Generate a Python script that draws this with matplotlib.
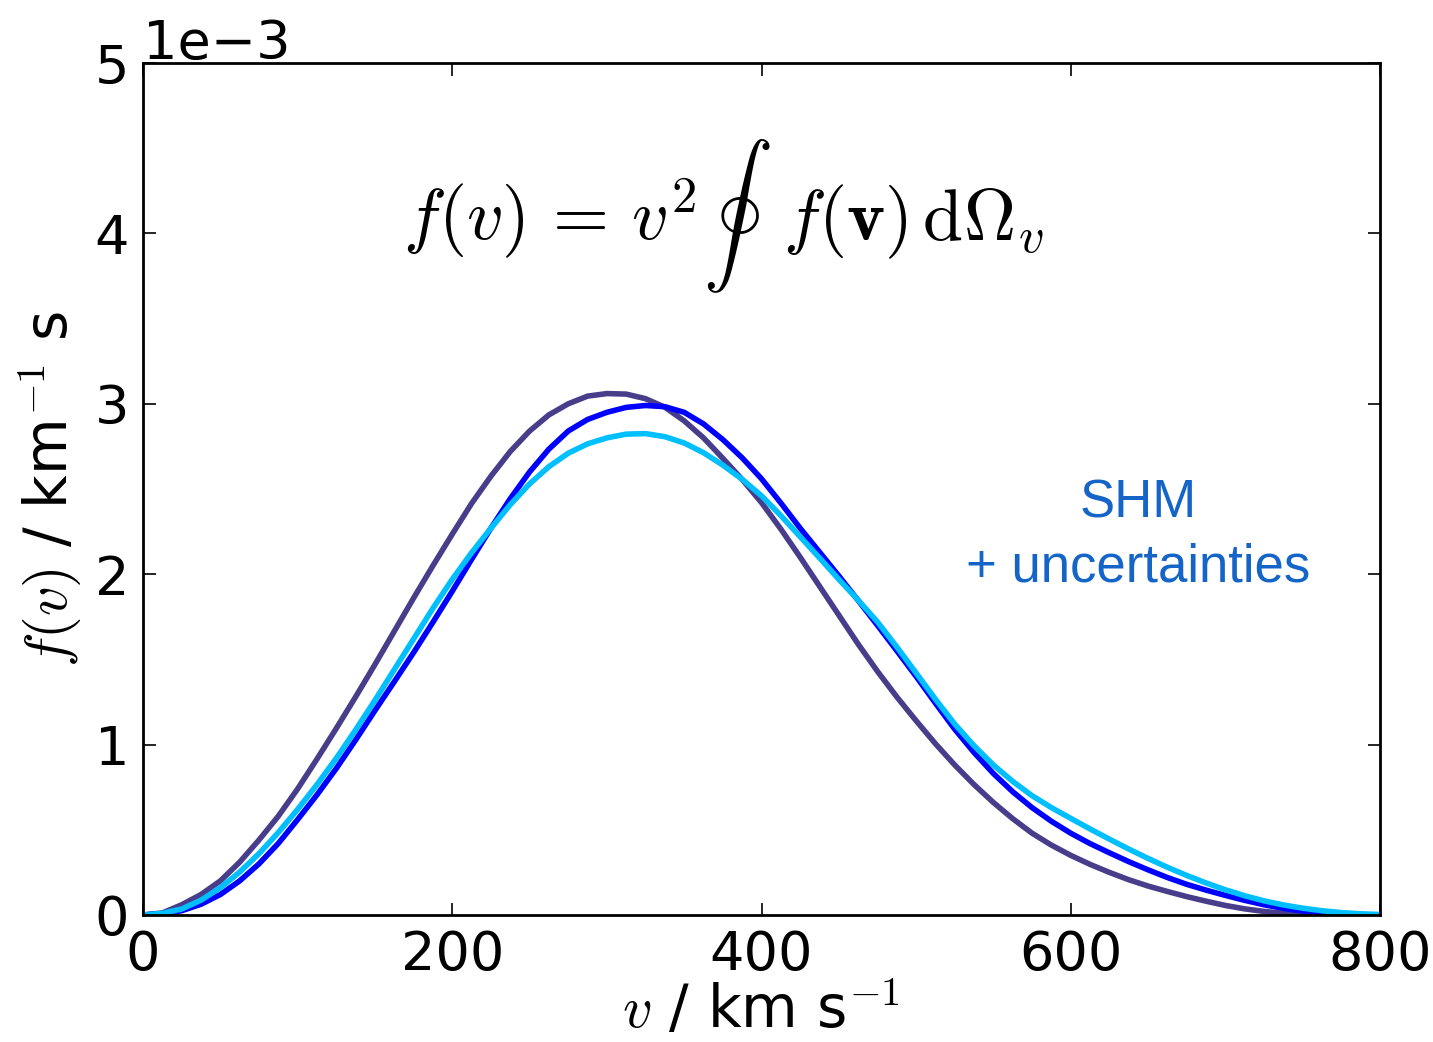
import matplotlib
matplotlib.use("Agg")
import matplotlib.pyplot as plt

plt.rcParams['mathtext.fontset'] = 'cm'
plt.rcParams['font.family'] = ['DejaVu Sans']

# speed samples (km/s)
speed = [0, 12.5, 25, 37.5, 50, 62.5, 75, 87.5, 100, 112.5, 125, 137.5, 150,
         162.5, 175, 187.5, 200, 212.5, 225, 237.5, 250, 262.5, 275, 287.5,
         300, 312.5, 325, 337.5, 350, 362.5, 375, 387.5, 400, 412.5, 425,
         437.5, 450, 462.5, 475, 487.5, 500, 512.5, 525, 537.5, 550, 562.5,
         575, 587.5, 600, 612.5, 625, 637.5, 650, 662.5, 675, 687.5, 700,
         712.5, 725, 737.5, 750, 762.5, 775, 787.5, 800]

# f(v) in units of 1e-3 (km/s)^-1
f_dark = [0.0, 0.012, 0.06, 0.12, 0.20, 0.31, 0.44, 0.58, 0.74, 0.915, 1.095,
          1.28, 1.47, 1.665, 1.86, 2.05, 2.235, 2.415, 2.575, 2.72, 2.84, 2.935,
          3.00, 3.045, 3.06, 3.057, 3.03, 2.98, 2.90, 2.80, 2.68, 2.556, 2.42,
          2.265, 2.10, 1.93, 1.76, 1.59, 1.43, 1.28, 1.14, 1.005, 0.88, 0.765,
          0.66, 0.565, 0.48, 0.41, 0.35, 0.297, 0.25, 0.207, 0.17, 0.138, 0.108,
          0.081, 0.056, 0.036, 0.021, 0.010, 0.004, 0.001, 0.0, 0.0, 0.0]
f_blue = [0.0, 0.008, 0.025, 0.063, 0.12, 0.20, 0.30, 0.42, 0.56, 0.705, 0.86,
          1.027, 1.20, 1.369, 1.54, 1.718, 1.90, 2.087, 2.27, 2.443, 2.60,
          2.734, 2.84, 2.908, 2.95, 2.979, 2.99, 2.983, 2.95, 2.882, 2.79,
          2.683, 2.56, 2.418, 2.27, 2.13, 1.99, 1.846, 1.70, 1.551, 1.40,
          1.243, 1.09, 0.953, 0.83, 0.723, 0.63, 0.55, 0.48, 0.419, 0.365,
          0.313, 0.265, 0.220, 0.18, 0.146, 0.115, 0.086, 0.06, 0.039, 0.023,
          0.012, 0.005, 0.0015, 0.0]
f_cyan = [0.0, 0.01, 0.035, 0.087, 0.16, 0.252, 0.36, 0.484, 0.62, 0.765, 0.92,
          1.086, 1.26, 1.44, 1.62, 1.80, 1.97, 2.126, 2.27, 2.408, 2.53, 2.631,
          2.71, 2.765, 2.80, 2.822, 2.825, 2.807, 2.77, 2.713, 2.64, 2.557,
          2.46, 2.344, 2.22, 2.096, 1.97, 1.848, 1.72, 1.573, 1.42, 1.266,
          1.12, 0.993, 0.88, 0.784, 0.70, 0.63, 0.567, 0.505, 0.445, 0.387,
          0.332, 0.28, 0.232, 0.188, 0.148, 0.113, 0.083, 0.059, 0.04, 0.025,
          0.014, 0.007, 0.003]

x_ticks = [0, 200, 400, 600, 800]
y_ticks = [0, 1e-3, 2e-3, 3e-3, 4e-3, 5e-3]

W, H = 1433, 1042
fig = plt.figure(figsize=(W / 100, H / 100), dpi=100)
ax = fig.add_axes([143 / W, 1 - 915 / H, (1380 - 143) / W, (915 - 63) / H])

scale = 1e-3
ax.plot(speed, [v * scale for v in f_dark], color='#483D8B', lw=4,
        solid_joinstyle='round')
ax.plot(speed, [v * scale for v in f_blue], color='#0000FF', lw=4,
        solid_joinstyle='round')
ax.plot(speed, [v * scale for v in f_cyan], color='#00BFFF', lw=4,
        solid_joinstyle='round')

ax.set_xlim(0, 800)
ax.set_ylim(0, 5e-3)
ax.set_xticks(x_ticks)
ax.set_yticks(y_ticks)
ax.ticklabel_format(axis='y', style='sci', scilimits=(0, 0))
ax.yaxis.get_offset_text().set_fontsize(39)

ax.tick_params(direction='in', top=True, right=True, length=9, width=1.2,
               labelsize=39, pad=10)
for s in ax.spines.values():
    s.set_linewidth(2)

ax.set_xlabel(r'$v$ / km s$^{-1}$', fontsize=42, labelpad=0.5)
ax.set_ylabel(r'$f(v)$ / km$^{-1}$ s', fontsize=42, labelpad=8)

def fx(px):
    return px / W

def fy(py):
    return 1 - py / H

# formula
fig.text(fx(403), fy(240), r'$f(v)\,=\,v^2$', fontsize=52, ha='left', va='baseline')
fig.text(fx(737), fy(216), r'$\oint$', fontsize=50, ha='center', va='center')
fig.text(fx(783), fy(240), r'$f(\mathbf{v})\,\mathrm{d}\Omega_v$', fontsize=52,
         ha='left', va='baseline')

# annotation
fig.text(fx(1138), fy(503), 'SHM', fontsize=38, color='#1565C8', ha='center',
         va='center', family=['Liberation Sans', 'DejaVu Sans'])
fig.text(fx(1138), fy(567), '+ uncertainties', fontsize=38, color='#1565C8',
         ha='center', va='center', family=['Liberation Sans', 'DejaVu Sans'])

fig.savefig('out.png', dpi=100)
